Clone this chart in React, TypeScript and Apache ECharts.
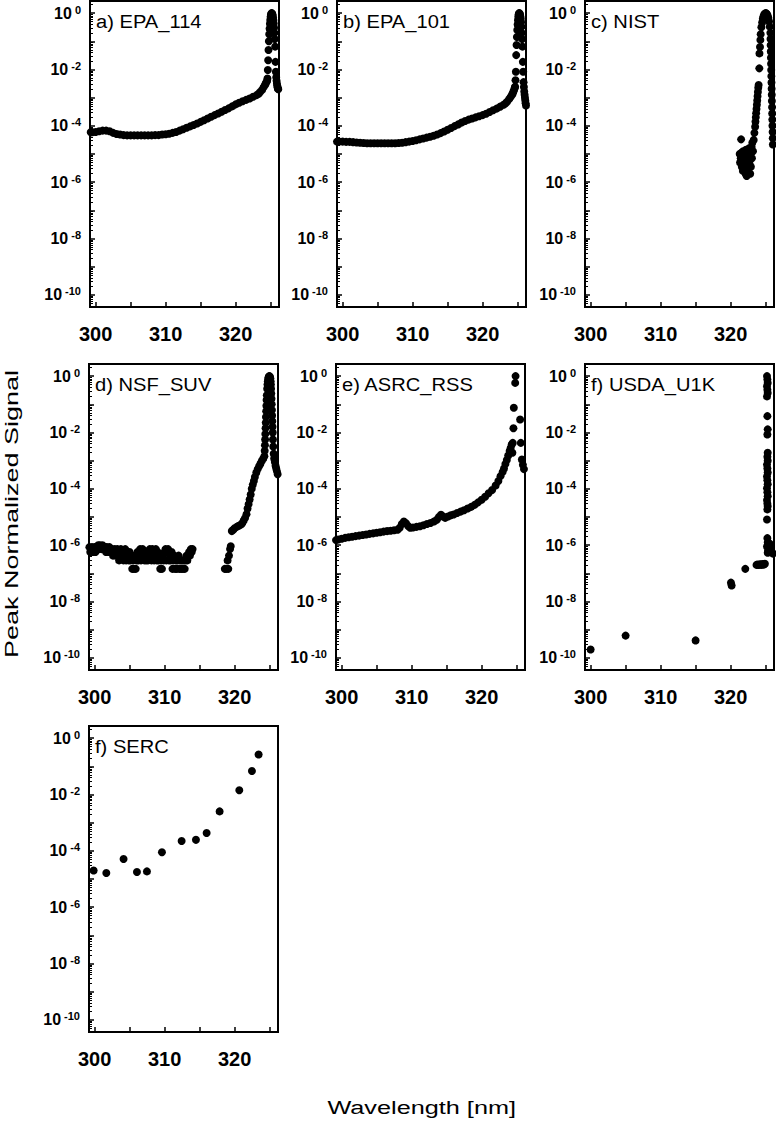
import React, { useEffect, useRef } from "react";
import * as echarts from "echarts";

const FONT = '"Liberation Sans", Arial, Helvetica, sans-serif';

// ---------------- Data: wavelength [nm] and log10(peak normalized signal) ----------------
// a) EPA_114
const epa114Wl = [
  299.3, 299.5, 300.0, 300.5, 301.0, 301.5, 302.0, 302.5, 303.0, 303.5, 304.0, 304.5, 305.0, 305.5,
  306.0, 306.5, 307.0, 307.5, 308.0, 308.5, 309.0, 309.5, 310.0, 310.5, 311.0, 311.5, 312.0, 312.5,
  313.0, 313.5, 314.0, 314.5, 315.0, 315.5, 316.0, 316.5, 317.0, 317.5, 318.0, 318.5, 319.0, 319.5,
  320.0, 320.5, 321.0, 321.5, 322.0, 322.5, 323.0, 323.3, 323.5, 323.8, 324.0, 324.2, 324.3, 324.4, 324.5,
  324.55, 324.6, 324.65, 324.7, 324.75, 324.8, 324.85, 324.9, 324.95, 325.0, 325.05, 325.1, 325.15,
  325.2, 325.25, 325.3, 325.35, 325.4, 325.45, 325.5, 325.55, 325.6, 325.65, 325.7, 325.75, 325.8,
  325.85, 325.9, 325.95, 326.0, 326.05, 326.1,
];
const epa114Log = [
  -4.23, -4.23, -4.22, -4.19, -4.17, -4.17, -4.19, -4.25, -4.29, -4.31, -4.33, -4.34, -4.34, -4.34,
  -4.34, -4.34, -4.34, -4.34, -4.34, -4.33, -4.33, -4.31, -4.30, -4.28, -4.25, -4.22, -4.17, -4.12,
  -4.07, -4.02, -3.97, -3.92, -3.86, -3.80, -3.74, -3.68, -3.62, -3.56, -3.50, -3.44, -3.38, -3.31,
  -3.24, -3.18, -3.13, -3.08, -3.03, -2.97, -2.91, -2.86, -2.80, -2.72, -2.63, -2.55, -2.50, -2.45, -2.40,
  -2.32, -2.02, -1.67, -1.31, -1.00, -0.75, -0.55, -0.38, -0.24, -0.13, -0.06, -0.02, 0.0,
  -0.01, -0.04, -0.09, -0.16, -0.25, -0.37, -0.52, -0.70, -0.92, -1.19, -1.73, -2.08, -2.28,
  -2.40, -2.50, -2.58, -2.64, -2.68, -2.70,
];

// b) EPA_101
const epa101Wl = [
  299.2, 299.5, 300.0, 300.5, 301.0, 301.5, 302.0, 302.5, 303.0, 303.5, 304.0, 304.5, 305.0, 305.5,
  306.0, 306.5, 307.0, 307.5, 308.0, 308.5, 309.0, 309.5, 310.0, 310.5, 311.0, 311.5, 312.0, 312.5,
  313.0, 313.5, 314.0, 314.5, 315.0, 315.5, 316.0, 316.5, 317.0, 317.5, 318.0, 318.5, 319.0, 319.5,
  320.0, 320.5, 321.0, 321.5, 322.0, 322.5, 323.0, 323.3, 323.5, 323.8, 324.0, 324.2, 324.3, 324.4,
  324.5, 324.6, 324.65, 324.7, 324.75, 324.8, 324.85, 324.9, 324.95, 325.0, 325.05, 325.1, 325.15,
  325.2, 325.25, 325.3, 325.35, 325.4, 325.45, 325.5, 325.55, 325.6, 325.65, 325.7, 325.75, 325.8,
  325.85, 325.9, 325.95, 326.0, 326.05, 326.1, 326.15, 326.2,
];
const epa101Log = [
  -4.56, -4.56, -4.56, -4.57, -4.57, -4.58, -4.59, -4.60, -4.61, -4.62, -4.62, -4.62, -4.62, -4.62,
  -4.62, -4.62, -4.62, -4.62, -4.61, -4.60, -4.58, -4.56, -4.54, -4.51, -4.48, -4.45, -4.42, -4.39,
  -4.35, -4.31, -4.26, -4.20, -4.14, -4.08, -4.01, -3.95, -3.88, -3.83, -3.78, -3.74, -3.70, -3.66,
  -3.62, -3.57, -3.51, -3.45, -3.39, -3.32, -3.25, -3.20, -3.14, -3.05, -2.98, -2.90, -2.85, -2.78,
  -2.72, -2.64, -2.61, -2.38, -2.08, -1.49, -1.13, -0.85, -0.60, -0.40, -0.25, -0.13, -0.05,
  -0.01, 0.0, -0.02, -0.06, -0.12, -0.20, -0.32, -0.48, -0.70, -0.92, -1.19, -1.73, -2.08,
  -2.45, -2.62, -2.78, -2.90, -3.00, -3.10, -3.20, -3.28,
];

// c) NIST
const nistWl = [
  321.5, 321.3, 321.35, 321.45, 321.55, 321.6, 321.7, 321.75, 321.8, 321.9, 321.95, 322.0, 322.1,
  322.15, 322.2, 322.3, 322.35, 322.4, 322.5, 322.55, 322.6, 322.7, 322.8, 322.85, 322.9, 323.0,
  323.05, 323.1, 323.2, 323.3, 323.4, 323.5, 323.55, 323.6, 323.65, 323.7, 323.75, 323.8, 323.85,
  323.9, 323.95, 324.0, 324.1, 324.12, 324.2, 324.25, 324.3, 324.4, 324.5, 324.6, 324.7, 324.8,
  324.9, 325.0, 325.1, 325.2, 325.3, 325.4, 325.5, 325.6, 325.68, 325.7, 325.72, 325.74, 325.76,
  325.78, 325.8, 325.82, 325.84, 325.86, 325.88, 325.9, 325.92, 325.94, 325.96, 325.98, 326.0,
  326.02, 326.04,
];
const nistLog = [
  -4.48, -5.0, -5.3, -5.15, -4.95, -5.45, -5.1, -5.6, -4.9, -5.3, -5.55, -5.0, -5.25,
  -5.7, -4.85, -5.78, -5.4, -5.05, -5.5, -5.2, -4.8, -5.35, -5.7, -5.0, -5.45, -4.75,
  -5.15, -4.6, -4.9, -4.5, -4.25, -4.03, -3.85, -3.70, -3.55, -3.40, -3.25, -3.10, -2.95,
  -2.80, -2.65, -2.55, -1.96, -1.43, -1.20, -0.95, -0.75, -0.50, -0.33, -0.20, -0.11, -0.05,
  -0.02, 0.0, -0.01, -0.04, -0.09, -0.17, -0.30, -0.48, -0.70, -0.92, -1.14, -1.36, -1.58,
  -1.80, -2.02, -2.24, -2.46, -2.68, -2.90, -3.12, -3.34, -3.56, -3.78, -4.00, -4.22,
  -4.44, -4.66,
];

// d) NSF_SUV — noise floor (wavelength, log10 signal) pairs
const nsfNoiseFloor: [number, number][] = [
  [299.25, -6.07], [299.375, -6.24], [299.5, -6.14], [299.625, -6.07], [299.75, -6.24], [299.875, -6.14],
  [300.0, -6.07], [300.125, -6.24], [300.25, -6.07], [300.375, -6.14], [300.5, -6.0], [300.625, -6.14],
  [300.75, -6.0], [300.875, -6.07], [301.0, -6.14], [301.125, -6.0], [301.25, -6.07], [301.375, -6.14],
  [301.5, -6.07], [301.625, -6.24], [301.75, -6.07], [301.875, -6.14], [302.0, -6.24], [302.125, -6.07],
  [302.25, -6.14], [302.375, -6.24], [302.5, -6.14], [302.625, -6.37], [302.75, -6.24], [302.875, -6.14],
  [303.0, -6.37], [303.125, -6.24], [303.25, -6.14], [303.375, -6.37], [303.5, -6.54], [303.625, -6.24],
  [303.75, -6.14], [303.875, -6.37], [304.0, -6.24], [304.125, -6.54], [304.25, -6.37], [304.375, -6.14],
  [304.5, -6.54], [304.625, -6.24], [304.75, -6.37], [304.875, -6.54], [305.0, -6.24], [305.125, -6.54],
  [305.25, -6.37], [305.375, -6.84], [305.5, -6.54], [305.625, -6.84], [305.75, -6.37], [305.875, -6.84],
  [306.0, -6.54], [306.125, -6.24], [306.25, -6.54], [306.375, -6.37], [306.5, -6.14], [306.625, -6.54],
  [306.75, -6.24], [306.875, -6.14], [307.0, -6.37], [307.125, -6.54], [307.25, -6.24], [307.375, -6.54],
  [307.5, -6.37], [307.625, -6.54], [307.75, -6.24], [307.875, -6.14], [308.0, -6.37], [308.125, -6.54],
  [308.25, -6.14], [308.375, -6.24], [308.5, -6.54], [308.625, -6.37], [308.75, -6.14], [308.875, -6.54],
  [309.0, -6.24], [309.125, -6.54], [309.25, -6.37], [309.375, -6.84], [309.5, -6.54], [309.625, -6.84],
  [309.75, -6.37], [309.875, -6.54], [310.0, -6.24], [310.125, -6.14], [310.25, -6.54], [310.375, -6.24],
  [310.5, -6.14], [310.625, -6.54], [310.75, -6.37], [310.875, -6.54], [311.0, -6.24], [311.125, -6.84],
  [311.25, -6.54], [311.375, -6.37], [311.5, -6.84], [311.625, -6.54], [311.75, -6.84], [311.875, -6.54],
  [312.0, -6.37], [312.125, -6.84], [312.25, -6.54], [312.375, -6.84], [312.5, -6.54], [312.625, -6.84],
  [312.75, -6.54], [312.875, -6.84], [313.0, -6.54], [313.125, -6.37], [313.25, -6.54], [313.375, -6.37],
  [313.5, -6.24], [313.625, -6.37], [313.75, -6.14], [313.875, -6.24], [314.0, -6.14],
];
// d) NSF_SUV — onset and peak
const nsfWl = [
  318.6, 318.8, 319.0, 319.1, 319.2, 319.35, 319.45, 319.6, 319.8, 320.0, 320.3, 320.6, 320.9,
  321.1, 321.3, 321.5, 321.7, 321.85, 322.0, 322.15, 322.3, 322.45, 322.6, 322.75, 322.9, 323.1,
  323.3, 323.5, 323.7, 323.9, 324.1, 324.25, 324.3, 324.33, 324.36, 324.39, 324.42, 324.45, 324.48,
  324.51, 324.54, 324.57, 324.6, 324.65, 324.7, 324.75, 324.8, 324.85, 324.9, 324.95, 325.0, 325.05,
  325.1, 325.15, 325.18, 325.21, 325.24, 325.27, 325.3, 325.33, 325.36, 325.39, 325.42, 325.45,
  325.48, 325.52, 325.58, 325.65, 325.75, 325.85, 325.95, 326.05, 326.15,
];
const nsfLog = [
  -6.84, -6.84, -6.54, -6.84, -6.37, -6.14, -6.04, -5.50, -5.45, -5.40, -5.35, -5.31, -5.27,
  -5.22, -5.12, -5.03, -4.90, -4.70, -4.55, -4.38, -4.20, -4.00, -3.85, -3.72, -3.58, -3.42,
  -3.30, -3.20, -3.10, -3.00, -2.92, -2.84, -2.65, -2.45, -2.25, -2.05, -1.85, -1.65, -1.45,
  -1.25, -1.05, -0.85, -0.68, -0.45, -0.30, -0.18, -0.10, -0.05, -0.02, 0.0, -0.01, -0.03,
  -0.08, -0.18, -0.30, -0.45, -0.62, -0.80, -1.0, -1.2, -1.4, -1.6, -1.8, -2.0,
  -2.25, -2.5, -2.75, -2.92, -3.05, -3.18, -3.28, -3.38, -3.48,
];

// e) ASRC_RSS
const asrcWl = [
  299.2, 299.5, 300.0, 300.5, 301.0, 301.5, 302.0, 302.5, 303.0, 303.5, 304.0, 304.5, 305.0, 305.5,
  306.0, 306.5, 307.0, 307.5, 308.0, 308.3, 308.6, 308.9, 309.2, 309.5, 309.8, 310.2, 310.7, 311.2,
  311.7, 312.2, 312.7, 313.2, 313.6, 313.9, 314.2, 314.5, 314.8, 315.2, 315.6, 316.0, 316.5, 317.0,
  317.5, 318.0, 318.5, 319.0, 319.5, 320.0, 320.5, 321.0, 321.5, 322.0, 322.4, 322.7, 323.0, 323.2,
  323.4, 323.6, 323.8, 324.0, 324.15, 324.3,
  324.4, 324.45, 324.55, 324.6, 324.8, 324.85, 325.5, 325.6, 325.75, 325.9, 326.05,
];
const asrcLog = [
  -5.82, -5.80, -5.77, -5.74, -5.72, -5.70, -5.68, -5.66, -5.64, -5.62, -5.60, -5.58, -5.56, -5.54,
  -5.52, -5.50, -5.49, -5.47, -5.45, -5.38, -5.25, -5.16, -5.22, -5.32, -5.38, -5.37, -5.35, -5.33,
  -5.29, -5.25, -5.21, -5.16, -5.10, -5.00, -4.92, -4.98, -5.03, -4.98, -4.94, -4.91, -4.86, -4.81,
  -4.76, -4.70, -4.64, -4.57, -4.48, -4.39, -4.28, -4.16, -4.04, -3.88, -3.72, -3.55, -3.40, -3.28,
  -3.12, -2.98, -2.82, -2.66, -2.55, -2.43,
  -2.72, -2.37, -1.85, -1.12, -0.24, 0.0, -1.54, -2.37, -2.96, -3.15, -3.30,
];

// f) USDA_U1K
const usdaWl = [
  300.0, 305.0, 315.0, 320.05, 320.15, 322.1, 323.7, 323.85, 324.0, 324.15, 324.3, 324.45, 324.6,
  324.75, 324.9, 325.2, 325.25, 325.3, 325.2, 325.25, 325.3, 325.2, 325.25, 325.3, 325.25, 325.3,
  325.25, 325.3, 325.2, 325.25, 325.3, 325.2, 325.25, 325.3, 325.2, 325.25, 325.3, 325.2, 325.25,
  325.3, 325.25, 325.2, 325.25, 325.3, 325.2, 325.35, 325.3, 325.5, 325.6, 325.75, 325.9, 326.05,
];
const usdaLog = [
  -9.70, -9.21, -9.38, -7.33, -7.43, -6.84, -6.70, -6.69, -6.70, -6.69, -6.68, -6.70, -6.67,
  -6.69, -6.66, 0.0, -0.12, -0.24, -0.36, -0.48, -0.60, -0.72, -1.42, -1.89, -2.07, -2.72,
  -2.86, -3.0, -3.14, -3.28, -3.42, -3.56, -3.70, -3.84, -3.98, -4.12, -4.26, -4.40, -4.52,
  -4.62, -4.73, -5.09, -5.75, -5.9, -6.05, -6.2, -6.27, -6.1, -5.95, -6.15, -6.25, -6.3,
];

// f) SERC
const sercWl = [299.86, 301.67, 304.14, 306.05, 307.48, 309.62, 312.43, 314.48, 316.0, 317.86, 320.67, 322.48, 323.43];
const sercLog = [-4.70, -4.79, -4.29, -4.75, -4.73, -4.05, -3.65, -3.61, -3.37, -2.60, -1.85, -1.17, -0.58];

// ---------------- Axes ----------------
const X_MIN = 299.2;
const X_MAX = 326.2;
const Y_MIN = -10.43;
const Y_MAX = 0.43;
const xTickValues = [300, 305, 310, 315, 320, 325];
const xLabelValues = [300, 310, 320];
const yMajorTicks = [-10, -9, -8, -7, -6, -5, -4, -3, -2, -1, 0];
const yLabelValues = [-10, -8, -6, -4, -2, 0];

const yMinorTicks: number[] = [];
for (let d = -11; d <= 0; d++) {
  for (let k = 2; k <= 9; k++) {
    const v = d + Math.log10(k);
    if (v > Y_MIN && v < Y_MAX) yMinorTicks.push(v);
  }
}

const pairs = (wl: number[], lg: number[]) => wl.map((w, j) => [w, lg[j]]);

const panels = [
  { title: "a) EPA_114", data: pairs(epa114Wl, epa114Log), left: 90, top: 1 },
  { title: "b) EPA_101", data: pairs(epa101Wl, epa101Log), left: 337, top: 1 },
  { title: "c) NIST", data: pairs(nistWl, nistLog), left: 585, top: 1 },
  { title: "d) NSF_SUV", data: [...nsfNoiseFloor, ...pairs(nsfWl, nsfLog)], left: 89, top: 364 },
  { title: "e) ASRC_RSS", data: pairs(asrcWl, asrcLog), left: 336, top: 364 },
  { title: "f) USDA_U1K", data: pairs(usdaWl, usdaLog), left: 585, top: 364 },
  { title: "f) SERC", data: pairs(sercWl, sercLog), left: 89, top: 726 },
];
const PW = 189;
const PH = 306;

export default function App() {
  const ref = useRef<HTMLDivElement>(null);

  useEffect(() => {
    if (!ref.current) return;
    const chart = echarts.init(ref.current, null, { renderer: "svg" });

    const grid = panels.map((p) => ({
      left: p.left,
      top: p.top,
      width: PW,
      height: PH,
      show: true,
      borderColor: "#000",
      borderWidth: 2,
      backgroundColor: "transparent",
    }));

    const xAxis = panels.map((_, i) => ({
      gridIndex: i,
      type: "value",
      position: "bottom",
      min: X_MIN,
      max: X_MAX,
      axisLine: { show: true, onZero: false, lineStyle: { color: "#000", width: 2 } },
      axisTick: {
        show: true,
        inside: true,
        length: 5,
        customValues: xTickValues,
        lineStyle: { color: "#000", width: 1.5 },
      },
      axisLabel: {
        show: true,
        customValues: xLabelValues,
        margin: 17,
        fontSize: 20,
        fontWeight: "bold",
        fontFamily: FONT,
        color: "#000",
      },
      splitLine: { show: false },
    }));

    const yAxis: any[] = [];
    panels.forEach((_, i) => {
      yAxis.push({
        gridIndex: i,
        type: "value",
        position: "left",
        min: Y_MIN,
        max: Y_MAX,
        axisLine: { show: true, onZero: false, lineStyle: { color: "#000", width: 2 } },
        axisTick: {
          show: true,
          inside: true,
          length: 5,
          customValues: yMajorTicks,
          lineStyle: { color: "#000", width: 1.5 },
        },
        axisLabel: {
          show: true,
          customValues: yLabelValues,
          margin: 9,
          formatter: (v: number) => `{b|10}{s|${Math.round(v)}}`,
          rich: {
            b: { fontSize: 16, fontWeight: "bold", fontFamily: FONT, color: "#000", lineHeight: 18 },
            s: {
              fontSize: 11,
              fontWeight: "bold",
              fontFamily: FONT,
              color: "#000",
              lineHeight: 11,
              verticalAlign: "top",
              padding: [0, 0, 0, 3],
            },
          },
        },
        splitLine: { show: false },
      });
      yAxis.push({
        gridIndex: i,
        type: "value",
        position: "left",
        offset: 0,
        min: Y_MIN,
        max: Y_MAX,
        axisLine: { show: false, onZero: false },
        axisTick: {
          show: true,
          inside: true,
          length: 3,
          customValues: yMinorTicks,
          lineStyle: { color: "#000", width: 1 },
        },
        axisLabel: { show: false },
        splitLine: { show: false },
      });
    });

    const series = panels.map((p, i) => ({
      type: "scatter",
      xAxisIndex: i,
      yAxisIndex: 2 * i,
      symbol: "circle",
      symbolSize: 8,
      silent: true,
      itemStyle: { color: "#000", opacity: 1 },
      data: p.data,
    }));

    const graphic: any[] = panels.map((p) => ({
      type: "text",
      x: p.left + 6,
      y: p.top + 20.5,
      scaleX: 1.06,
      style: {
        text: p.title,
        fontSize: 19,
        fontFamily: FONT,
        fill: "#000",
        align: "left",
        verticalAlign: "middle",
      },
    }));
    graphic.push({
      type: "text",
      x: 11,
      y: 514,
      rotation: Math.PI / 2,
      scaleX: 1.42,
      style: {
        text: "Peak Normalized Signal",
        fontSize: 19,
        fontFamily: FONT,
        fill: "#000",
        align: "center",
        verticalAlign: "middle",
      },
    });
    graphic.push({
      type: "text",
      x: 421.7,
      y: 1108,
      scaleX: 1.33,
      style: {
        text: "Wavelength [nm]",
        fontSize: 19,
        fontFamily: FONT,
        fill: "#000",
        align: "center",
        verticalAlign: "middle",
      },
    });

    chart.setOption({
      animation: false,
      backgroundColor: "#fff",
      grid,
      xAxis,
      yAxis,
      series,
      graphic,
    });

    return () => chart.dispose();
  }, []);

  return (
    <div
      ref={ref}
      style={{ position: "absolute", left: 0, top: 0, width: 776, height: 1123 }}
    />
  );
}
